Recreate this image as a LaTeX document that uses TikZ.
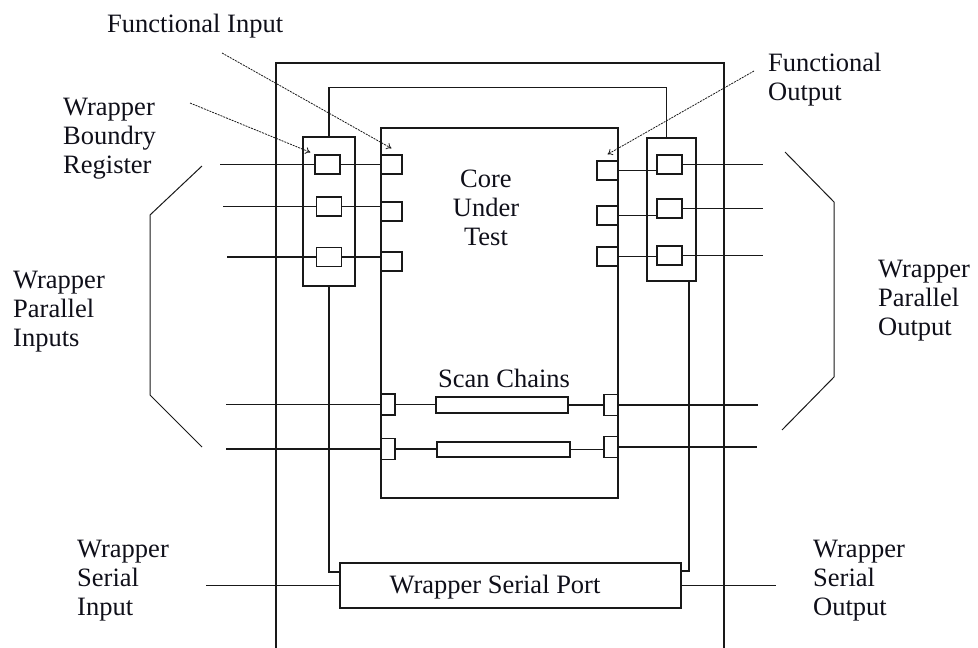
\documentclass[tikz,border=0pt]{standalone}
\usepackage{fontspec}
\setmainfont{Liberation Serif}
\usepackage{tikz}
\usetikzlibrary{arrows.meta, positioning, calc}
\definecolor{cLine}{RGB}{25,25,25}
\definecolor{cText}{RGB}{15,15,25}
\tikzset{
  basebox/.style={rectangle, draw=cLine, line width=1.3pt, inner sep=0pt},
  regnode/.style={basebox, minimum width=25pt, minimum height=19pt},
  portnode/.style={basebox, minimum width=21pt, minimum height=19pt},
  scanport/.style={basebox, minimum width=14pt, minimum height=21pt},
  chainnode/.style={basebox, minimum width=133pt, minimum height=16pt},
  labeltext/.style={font=\rmfamily\fontsize{26.5}{29}\selectfont, text=cText,
                    inner sep=0pt, align=left},
  wire/.style={draw=cLine, line width=1.3pt},
  bracket/.style={draw=cLine, line width=1pt},
  pointer/.style={->, >={To[length=5pt,width=7pt]}, cLine, line width=0.8pt,
                  dash pattern=on 2pt off 1pt}
}

\begin{document}
\begin{tikzpicture}[x=1pt, y=-1pt]
  \useasboundingbox (0,0) rectangle (978,648);

  % Outer wrapper
  \draw[wire] (276,648) |- (724,63) -- (724,648);

  % Core, boundary registers and serial port
  \node[basebox, minimum width=237pt, minimum height=370pt] (core) at (499.5,313) {};
  \node[basebox, minimum width=52pt, minimum height=149pt] (wbrL) at (329,211.5) {};
  \node[basebox, minimum width=49pt, minimum height=143pt] (wbrR) at (671.5,209.5) {};
  \node[basebox, minimum width=341pt, minimum height=45pt] (sport) at (510.5,585.5) {};

  % Wrapper cells
  \node[regnode] (rL1) at (327.5,164.5) {};
  \node[regnode] (rL2) at (329,206.5) {};
  \node[regnode] (rL3) at (329,257) {};
  \node[regnode] (rR1) at (669.5,164.5) {};
  \node[regnode] (rR2) at (669.5,208.5) {};
  \node[regnode] (rR3) at (669.5,255.5) {};

  % Core terminals
  \node[portnode] (pL1) at (391.5,164.5) {};
  \node[portnode] (pL2) at (391.5,211.5) {};
  \node[portnode] (pL3) at (391.5,261.5) {};
  \node[portnode] (pR1) at (607.5,170.5) {};
  \node[portnode] (pR2) at (607.5,215.5) {};
  \node[portnode] (pR3) at (607.5,256.5) {};

  % Scan chains
  \node[scanport] (sL1) at (388,404.5) {};
  \node[scanport] (sL2) at (388,449) {};
  \node[chainnode, minimum width=132pt] (ch1) at (502,405) {};
  \node[chainnode, minimum height=15pt] (ch2) at (503.5,449.5) {};
  \node[scanport] (sR1) at (611,405) {};
  \node[scanport] (sR2) at (611,447) {};

  % Free ends
  \coordinate (in1) at (220,164.5);
  \coordinate (in2) at (223,206.5);
  \coordinate (in3) at (227,257);
  \coordinate (in4) at (226,404.5);
  \coordinate (in5) at (226,449);
  \coordinate (out1) at (763,164.5);
  \coordinate (out2) at (763,208.5);
  \coordinate (out3) at (763,255.5);
  \coordinate (out4) at (758,405);
  \coordinate (out5) at (757,447);
  \coordinate (wsi) at (206,585.5);
  \coordinate (wso) at (776,585.5);

  % Serial path
  \draw[wire] (wbrL.north) -- ++(0,-49) -| ([xshift=-5pt]wbrR.north);
  \draw[wire] (wbrL.south) |- ([yshift=13.5pt]sport.west);
  \draw[wire] ([xshift=17.5pt]wbrR.south) |- ([yshift=14.5pt]sport.east);
  \draw[wire] (wsi) -- (sport.west);
  \draw[wire] (sport.east) -- (wso);

  % Parallel inputs
  \draw[wire] (in1) -- (rL1.west);
  \draw[wire] (in2) -- (rL2.west);
  \draw[wire] (in3) -- (rL3.west);
  \draw[wire] (rL1.east) -- (rL1.east -| pL1.west);
  \draw[wire] (rL2.east) -- (rL2.east -| pL2.west);
  \draw[wire] (rL3.east) -- (rL3.east -| pL3.west);
  \draw[wire] (in4) -- (sL1.west);
  \draw[wire] (in5) -- (sL2.west);

  % Parallel outputs
  \draw[wire] (pR1.east) -- (pR1.east -| rR1.west);
  \draw[wire] (pR2.east) -- (pR2.east -| rR2.west);
  \draw[wire] (pR3.east) -- (pR3.east -| rR3.west);
  \draw[wire] (rR1.east) -- (out1);
  \draw[wire] (rR2.east) -- (out2);
  \draw[wire] (rR3.east) -- (out3);
  \draw[wire] (sR1.east) -- (out4);
  \draw[wire] (sR2.east) -- (out5);

  % Chain links
  \draw[wire] (sL1.east) -- (sL1.east -| ch1.west);
  \draw[wire] (sL2.east) -- (sL2.east -| ch2.west);
  \draw[wire] (ch1.east) -- (ch1.east -| sR1.west);
  \draw[wire] (ch2.east) -- (ch2.east -| sR2.west);

  % Brackets
  \draw[bracket] (202,166) -- (150,215) -- (150,395) -- (202,447);
  \draw[bracket] (785,152) -- (834,202) -- (834,377) -- (782,430);

  % Labels
  \node[labeltext, anchor=base west] (fiTxt) at (107,32) {Functional Input};
  \node[labeltext, anchor=north west] (wbrTxt) at (63,97.5) {Wrapper\\Boundry\\Register};
  \node[labeltext, anchor=north west] (foTxt) at (768,52.5) {Functional\\Output};
  \node[labeltext, align=center, anchor=north] (cutTxt) at (486,169.5) {Core\\Under\\Test};
  \node[labeltext, anchor=base west] (scTxt) at (438,387) {Scan Chains};
  \node[labeltext, anchor=base] (spTxt) at (495,593) {Wrapper Serial Port};
  \node[labeltext, anchor=north west] (wpiTxt) at (13,270.5) {Wrapper\\Parallel\\Inputs};
  \node[labeltext, anchor=north west] (wpoTxt) at (878,259.5) {Wrapper\\Parallel\\Output};
  \node[labeltext, anchor=north west] (wsiTxt) at (77,539.5) {Wrapper\\Serial\\Input};
  \node[labeltext, anchor=north west] (wsoTxt) at (813,539.5) {Wrapper\\Serial\\Output};

  % Pointers
  \draw[pointer] (222,53) -- ([yshift=6pt]pL1.north);
  \draw[pointer] (190,103) -- ([shift={(-4pt,2pt)}]rL1.north west);
  \draw[pointer] (754,71) -- ([yshift=6pt]pR1.north);
\end{tikzpicture}
\end{document}
